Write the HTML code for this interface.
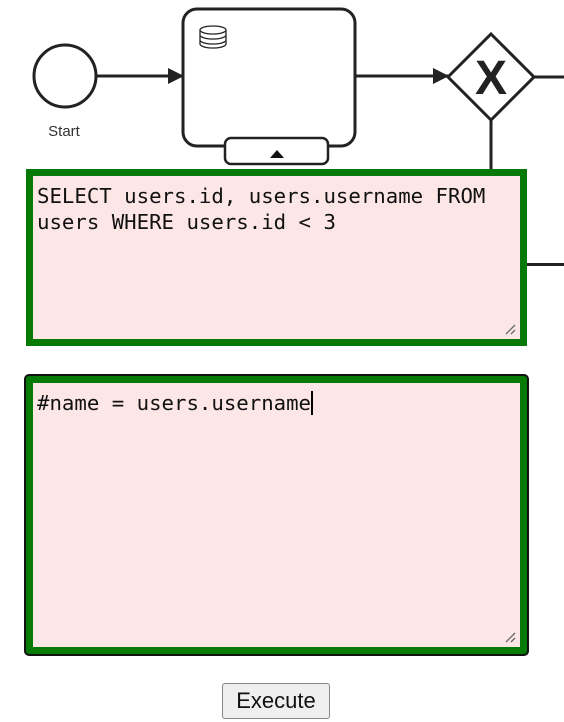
<!DOCTYPE html>
<html><head><style>
body{margin:0;width:564px;height:722px;background:#fff;position:relative;overflow:hidden;font-family:"Liberation Sans",sans-serif}
.ta{position:absolute;left:26px;width:501px;box-sizing:border-box;background:#fde6e6;font-family:"DejaVu Sans Mono","Liberation Mono",monospace;font-size:20.7px;line-height:26px;color:#111;padding:7px 4px 3px;white-space:pre-wrap}
#t1{top:169px;height:177px;border:7px solid #067a06}
#t2{top:376px;height:278px;border:7px solid #067a06;box-shadow:0 0 0 2px #111;border-radius:3px}
.rz{position:absolute;right:4px;bottom:4px}
#btn{position:absolute;left:222px;top:683px;width:108px;height:36px;box-sizing:border-box;border:1px solid #888;border-radius:3px;background:#efefef;font-size:22px;text-align:center;line-height:33px;color:#111}
</style></head><body>
<svg width="564" height="170" style="position:absolute;left:0;top:0">
<defs><marker id="a" markerWidth="16" markerHeight="16" refX="15" refY="8" orient="auto" markerUnits="userSpaceOnUse"><path d="M0,0 L16,8 L0,16z" fill="#222"/></marker></defs>
<circle cx="65" cy="76" r="31" fill="#fff" stroke="#222" stroke-width="3"/>
<text x="64" y="136" font-size="15" text-anchor="middle" fill="#333" font-family="Liberation Sans">Start</text>
<line x1="96" y1="76" x2="183" y2="76" stroke="#222" stroke-width="3" marker-end="url(#a)"/>
<rect x="183" y="9" width="172" height="137" rx="14" fill="#fff" stroke="#222" stroke-width="3"/>
<g fill="#fff" stroke="#222" stroke-width="1.3"><path d="M200,30 v14 a13,4 0 0 0 26,0 v-14"/><ellipse cx="213" cy="30" rx="13" ry="4"/><path d="M200,35 a13,4 0 0 0 26,0 M200,40 a13,4 0 0 0 26,0"/></g>
<rect x="225" y="138" width="103" height="26" rx="6" fill="#fff" stroke="#222" stroke-width="2.5"/>
<path d="M270,158 L277,150 L284,158z" fill="#111"/>
<line x1="355" y1="76" x2="448" y2="76" stroke="#222" stroke-width="3" marker-end="url(#a)"/>
<path d="M491,34 L534,77 L491,120 L448,77z" fill="#fff" stroke="#222" stroke-width="3"/>
<text x="491" y="94" font-size="48" font-weight="bold" text-anchor="middle" fill="#222" font-family="Liberation Sans">X</text>
<line x1="534" y1="77" x2="564" y2="77" stroke="#222" stroke-width="3"/>
<line x1="491" y1="120" x2="491" y2="170" stroke="#222" stroke-width="3"/>
</svg>
<svg width="40" height="4" style="position:absolute;left:527px;top:263px"><line x1="0" y1="1.5" x2="40" y2="1.5" stroke="#222" stroke-width="3"/></svg>
<div class="ta" id="t1">SELECT users.id, users.username FROM
users WHERE users.id &lt; 3<svg class="rz" width="12" height="12"><path d="M2,11 L11,2 M7,11 L11,7" stroke="#666" stroke-width="1.3"/></svg></div>
<div class="ta" id="t2">#name = users.username<span style="border-left:2px solid #000;margin-left:0"></span><svg class="rz" width="12" height="12"><path d="M2,11 L11,2 M7,11 L11,7" stroke="#666" stroke-width="1.3"/></svg></div>
<div id="btn">Execute</div>
</body></html>
